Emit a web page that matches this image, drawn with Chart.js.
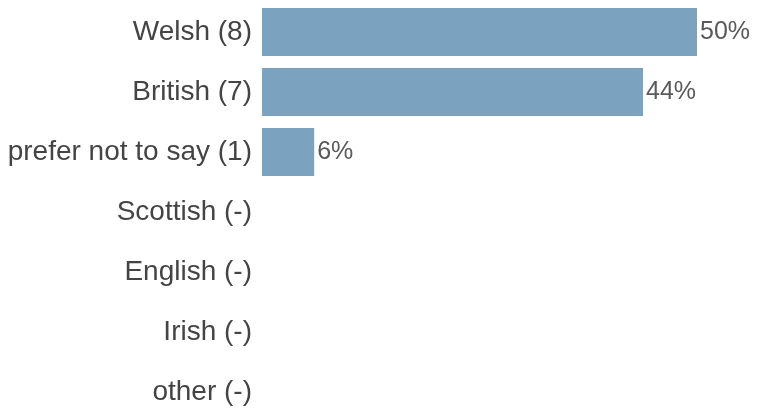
<!DOCTYPE html>
<html>
<head>
<meta charset="utf-8">
<script src="https://cdn.jsdelivr.net/npm/chart.js@4/dist/chart.umd.min.js"></script>
<style>
html,body{margin:0;padding:0;background:#fff;overflow:hidden;width:757px;height:410px;}
#wrap{position:relative;width:757px;height:422px;}
</style>
</head>
<body>
<div id="wrap"><canvas id="c"></canvas></div>
<script>
const categories = ["Welsh (8)", "British (7)", "prefer not to say (1)", "Scottish (-)", "English (-)", "Irish (-)", "other (-)"];
const percentValues = [50, 43.8, 6, null, null, null, null];
const valueLabels = ["50%", "44%", "6%", "", "", "", ""];
const axisMax = 50;

const valueLabelPlugin = {
  id: 'valueLabels',
  afterDatasetsDraw(chart) {
    const ctx = chart.ctx;
    const meta = chart.getDatasetMeta(0);
    ctx.save();
    ctx.font = '25px "Liberation Sans", Arial, sans-serif';
    ctx.fillStyle = '#595959';
    ctx.textAlign = 'left';
    ctx.textBaseline = 'middle';
    meta.data.forEach((bar, i) => {
      if (valueLabels[i]) ctx.fillText(valueLabels[i], bar.x + 3, bar.y);
    });
    ctx.restore();
  }
};

new Chart(document.getElementById('c'), {
  type: 'bar',
  data: {
    labels: categories,
    datasets: [{
      data: percentValues,
      backgroundColor: '#7ba3bf',
      borderWidth: 0,
      barPercentage: 1,
      categoryPercentage: 0.8
    }]
  },
  options: {
    indexAxis: 'y',
    responsive: true,
    maintainAspectRatio: false,
    animation: false,
    layout: { padding: { top: 2, right: 60, bottom: 0, left: 0 } },
    plugins: { legend: { display: false }, tooltip: { enabled: false } },
    scales: {
      x: { display: false, min: 0, max: axisMax },
      y: {
        grid: { display: false, drawTicks: false },
        border: { display: false },
        ticks: {
          padding: 10,
          color: '#444444',
          font: { family: '"Liberation Sans", Arial, sans-serif', size: 28 }
        },
        afterFit(scale) { scale.width = 262; scale.paddingTop = 0; scale.paddingBottom = 0; }
      }
    }
  },
  plugins: [valueLabelPlugin]
});
</script>
</body>
</html>
